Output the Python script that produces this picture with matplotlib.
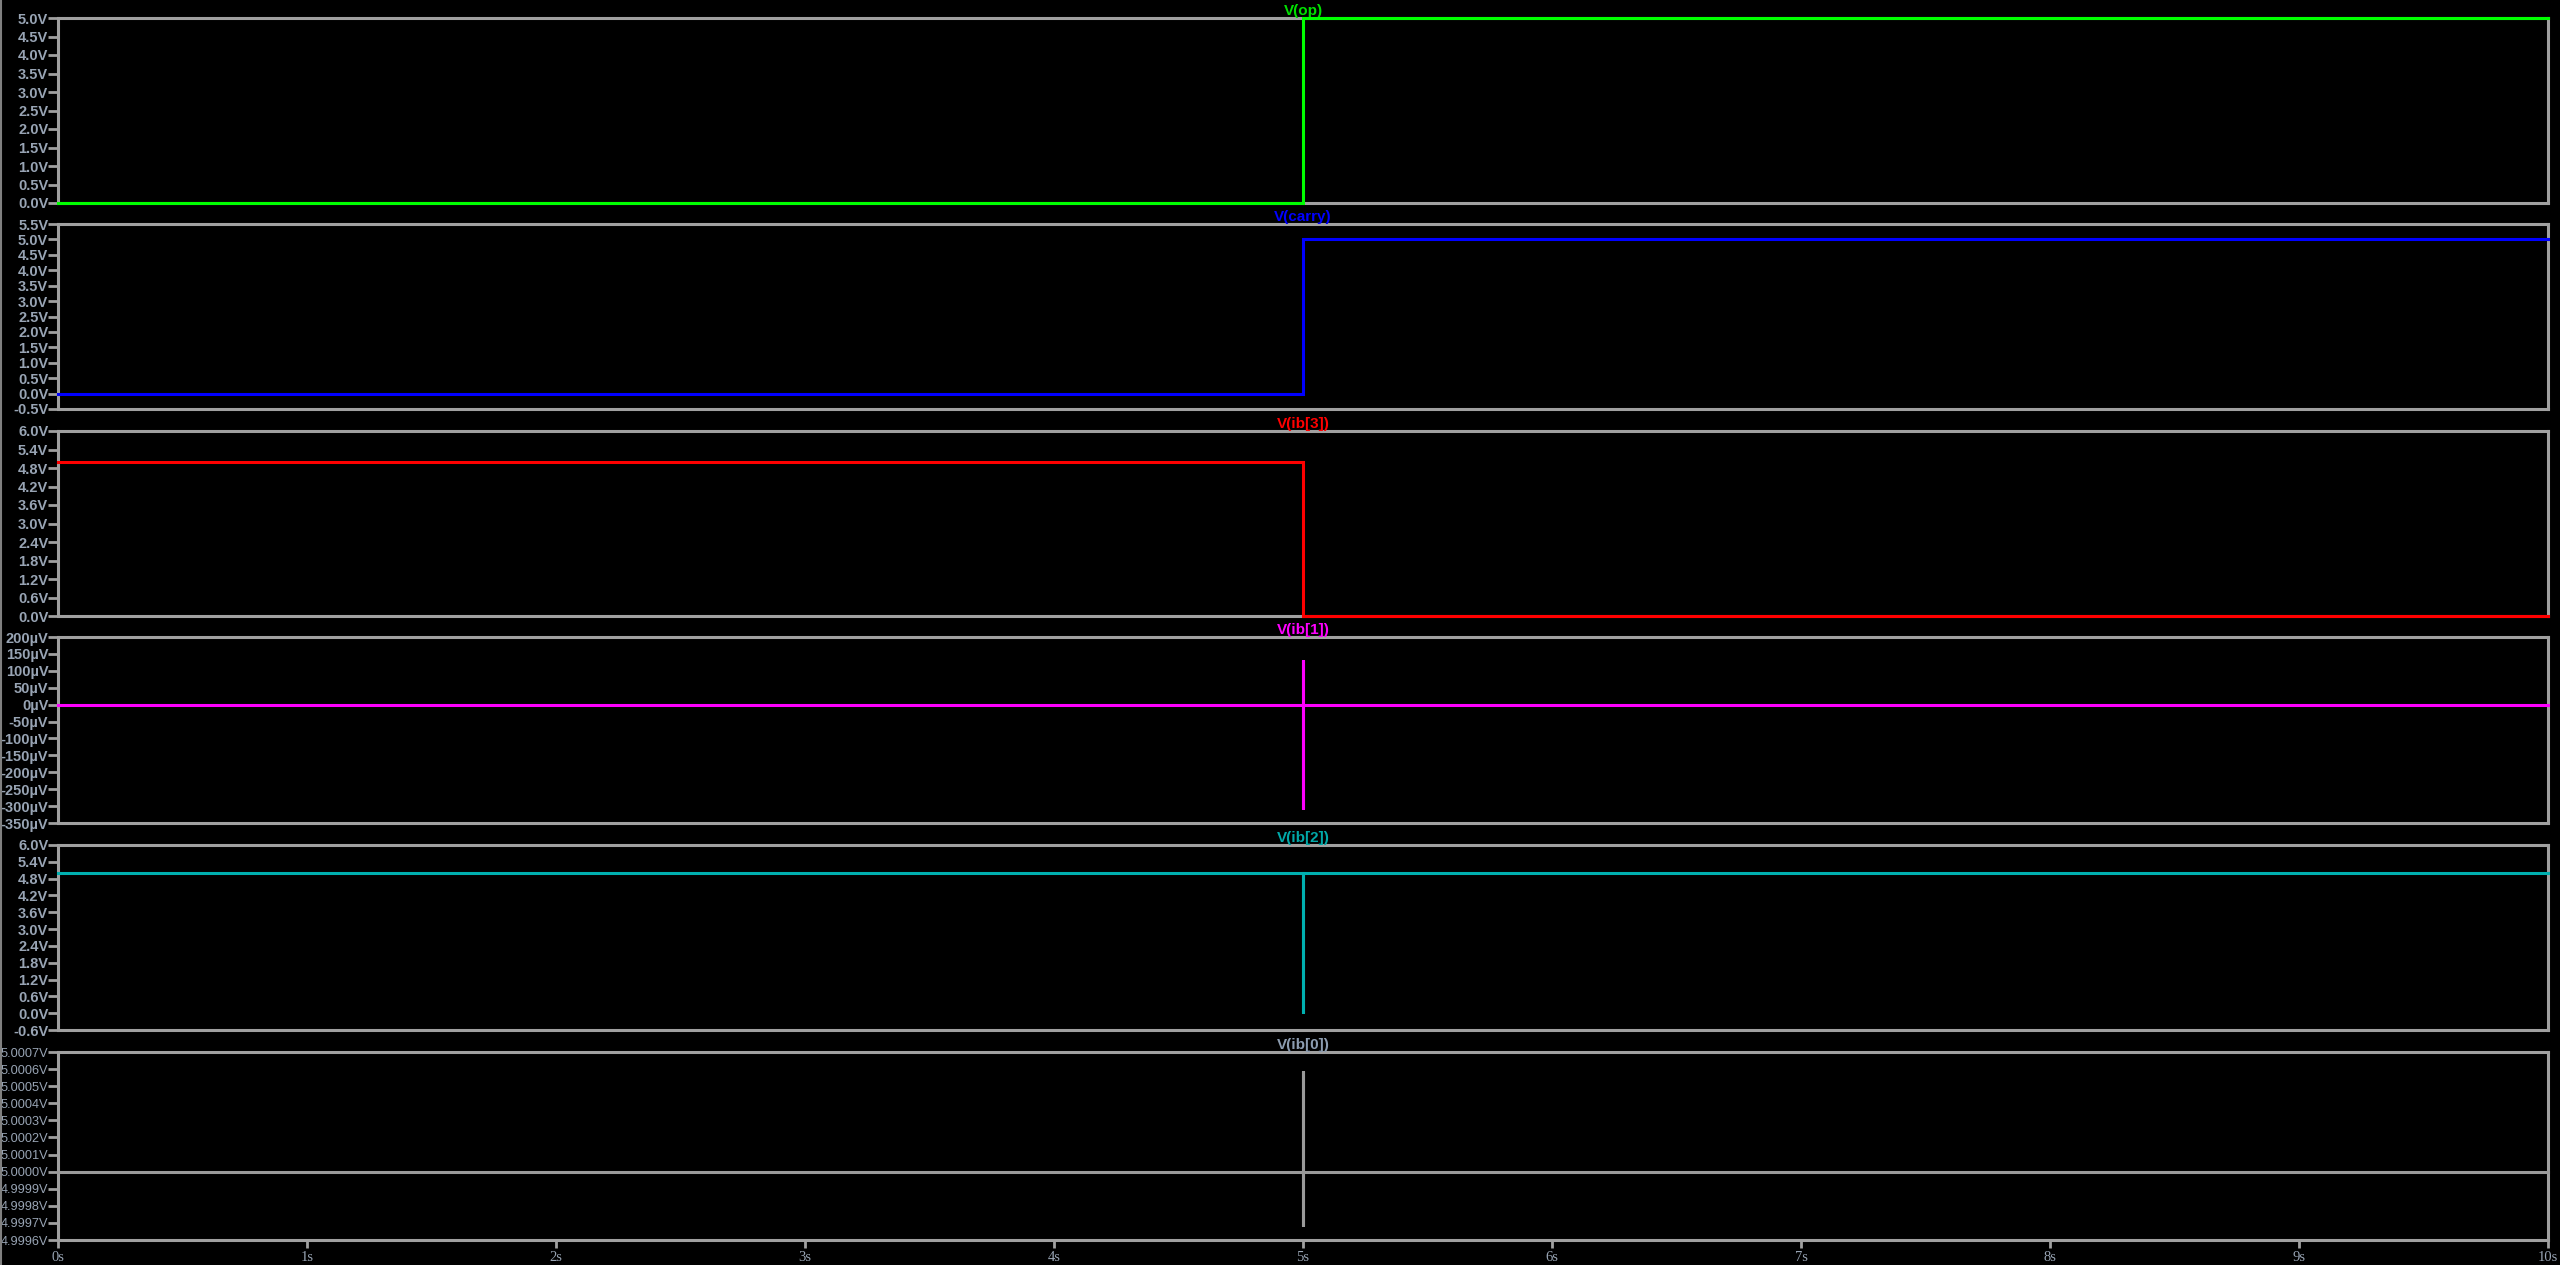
import matplotlib
matplotlib.use("Agg")
import matplotlib.pyplot as plt
import numpy as np

# time axis (s)
t_step = [0, 5, 5, 10]
t_spike = [0, 5, 5, 5, 5, 10]

v_op = [0, 0, 5, 5]
v_carry = [0, 0, 5, 5]
v_ib3 = [5, 5, 0, 0]
v_ib1 = [0, 0, 132e-6, -309e-6, 0, 0]
v_ib2 = [5, 5, 0.0, 5, 5, 5]
v_ib0 = [5.0, 5.0, 5.00059, 4.99968, 5.0, 5.0]

titles = ["V(op)", "V(carry)", "V(ib[3])", "V(ib[1])", "V(ib[2])", "V(ib[0])"]
colors = ["#00ff00", "#0000ff", "#ff0000", "#ff00ff", "#00b0b0", "#9a9a9a"]
title_colors = ["#00e000", "#0000ff", "#ff0000", "#ff00ff", "#00a8a8", "#8c9cb0"]

yticks_op = [0, 0.5, 1.0, 1.5, 2.0, 2.5, 3.0, 3.5, 4.0, 4.5, 5.0]
yticks_carry = [-0.5, 0, 0.5, 1.0, 1.5, 2.0, 2.5, 3.0, 3.5, 4.0, 4.5, 5.0, 5.5]
yticks_ib3 = [0, 0.6, 1.2, 1.8, 2.4, 3.0, 3.6, 4.2, 4.8, 5.4, 6.0]
yticks_ib1 = [-350e-6, -300e-6, -250e-6, -200e-6, -150e-6, -100e-6, -50e-6, 0,
              50e-6, 100e-6, 150e-6, 200e-6]
yticks_ib2 = [-0.6, 0, 0.6, 1.2, 1.8, 2.4, 3.0, 3.6, 4.2, 4.8, 5.4, 6.0]
yticks_ib0 = [4.9996, 4.9997, 4.9998, 4.9999, 5.0, 5.0001, 5.0002, 5.0003,
              5.0004, 5.0005, 5.0006, 5.0007]

xticks = [0, 1, 2, 3, 4, 5, 6, 7, 8, 9, 10]
xlabels = [str(x) + "s" for x in xticks]

def fmt_v1(v):
    return "%.1fV" % v

def fmt_uv(v):
    return "%dµV" % round(v * 1e6)

def fmt_v4(v):
    return "%.4fV" % v

panels = [
    (t_step, v_op, yticks_op, fmt_v1),
    (t_step, v_carry, yticks_carry, fmt_v1),
    (t_step, v_ib3, yticks_ib3, fmt_v1),
    (t_spike, v_ib1, yticks_ib1, fmt_uv),
    (t_spike, v_ib2, yticks_ib2, fmt_v1),
    (t_spike, v_ib0, yticks_ib0, fmt_v4),
]

# pixel extents (top, bottom) of each panel
W, H = 2560, 1265
boxes = [(18, 203), (224, 409), (431, 616), (637, 823), (845, 1030), (1052, 1240)]
left_px, right_px = 58, 2548

grey = "#a0a0a0"
label_col = "#98a4b4"

fig = plt.figure(figsize=(W / 100, H / 100), dpi=100, facecolor="black")

for i, (t, v, yt, fmt) in enumerate(panels):
    top, bot = boxes[i]
    ax = fig.add_axes([left_px / W, 1 - bot / H, (right_px - left_px) / W, (bot - top) / H])
    ax.set_facecolor("black")
    ax.plot(t, v, color=colors[i], lw=2.2, solid_joinstyle="miter",
            clip_on=False, zorder=5)
    ax.set_xlim(0, 10)
    ax.set_ylim(yt[0], yt[-1])
    ax.set_yticks(yt)
    if i == len(panels) - 1:
        ax.set_yticklabels([fmt(y) for y in yt], fontsize=9.2, color=label_col,
                           family="Liberation Sans")
    else:
        ax.set_yticklabels([fmt(y) for y in yt], fontsize=10.5, fontweight="bold",
                           color=label_col, family="Liberation Sans")
    ax.tick_params(axis="y", direction="out", length=7, width=2, color=grey, pad=0)
    for s in ax.spines.values():
        s.set_color(grey)
        s.set_linewidth(2.2)
    ax.set_title(titles[i], color=title_colors[i], fontsize=11, fontweight="bold",
                 family="Liberation Sans", pad=2)
    if i == len(panels) - 1:
        ax.set_xticks(xticks)
        ax.set_xticklabels(xlabels, fontsize=10.5, color=label_col, family="Liberation Serif")
        ax.tick_params(axis="x", direction="out", length=6, width=2, color=grey, pad=2)
    else:
        ax.set_xticks([])

# thin frame line on the far left
fig.add_artist(plt.Line2D([1 / W, 1 / W], [0, 1], color="#808080", lw=1.5,
                          transform=fig.transFigure))

fig.savefig("out.png", dpi=100, facecolor="black")
